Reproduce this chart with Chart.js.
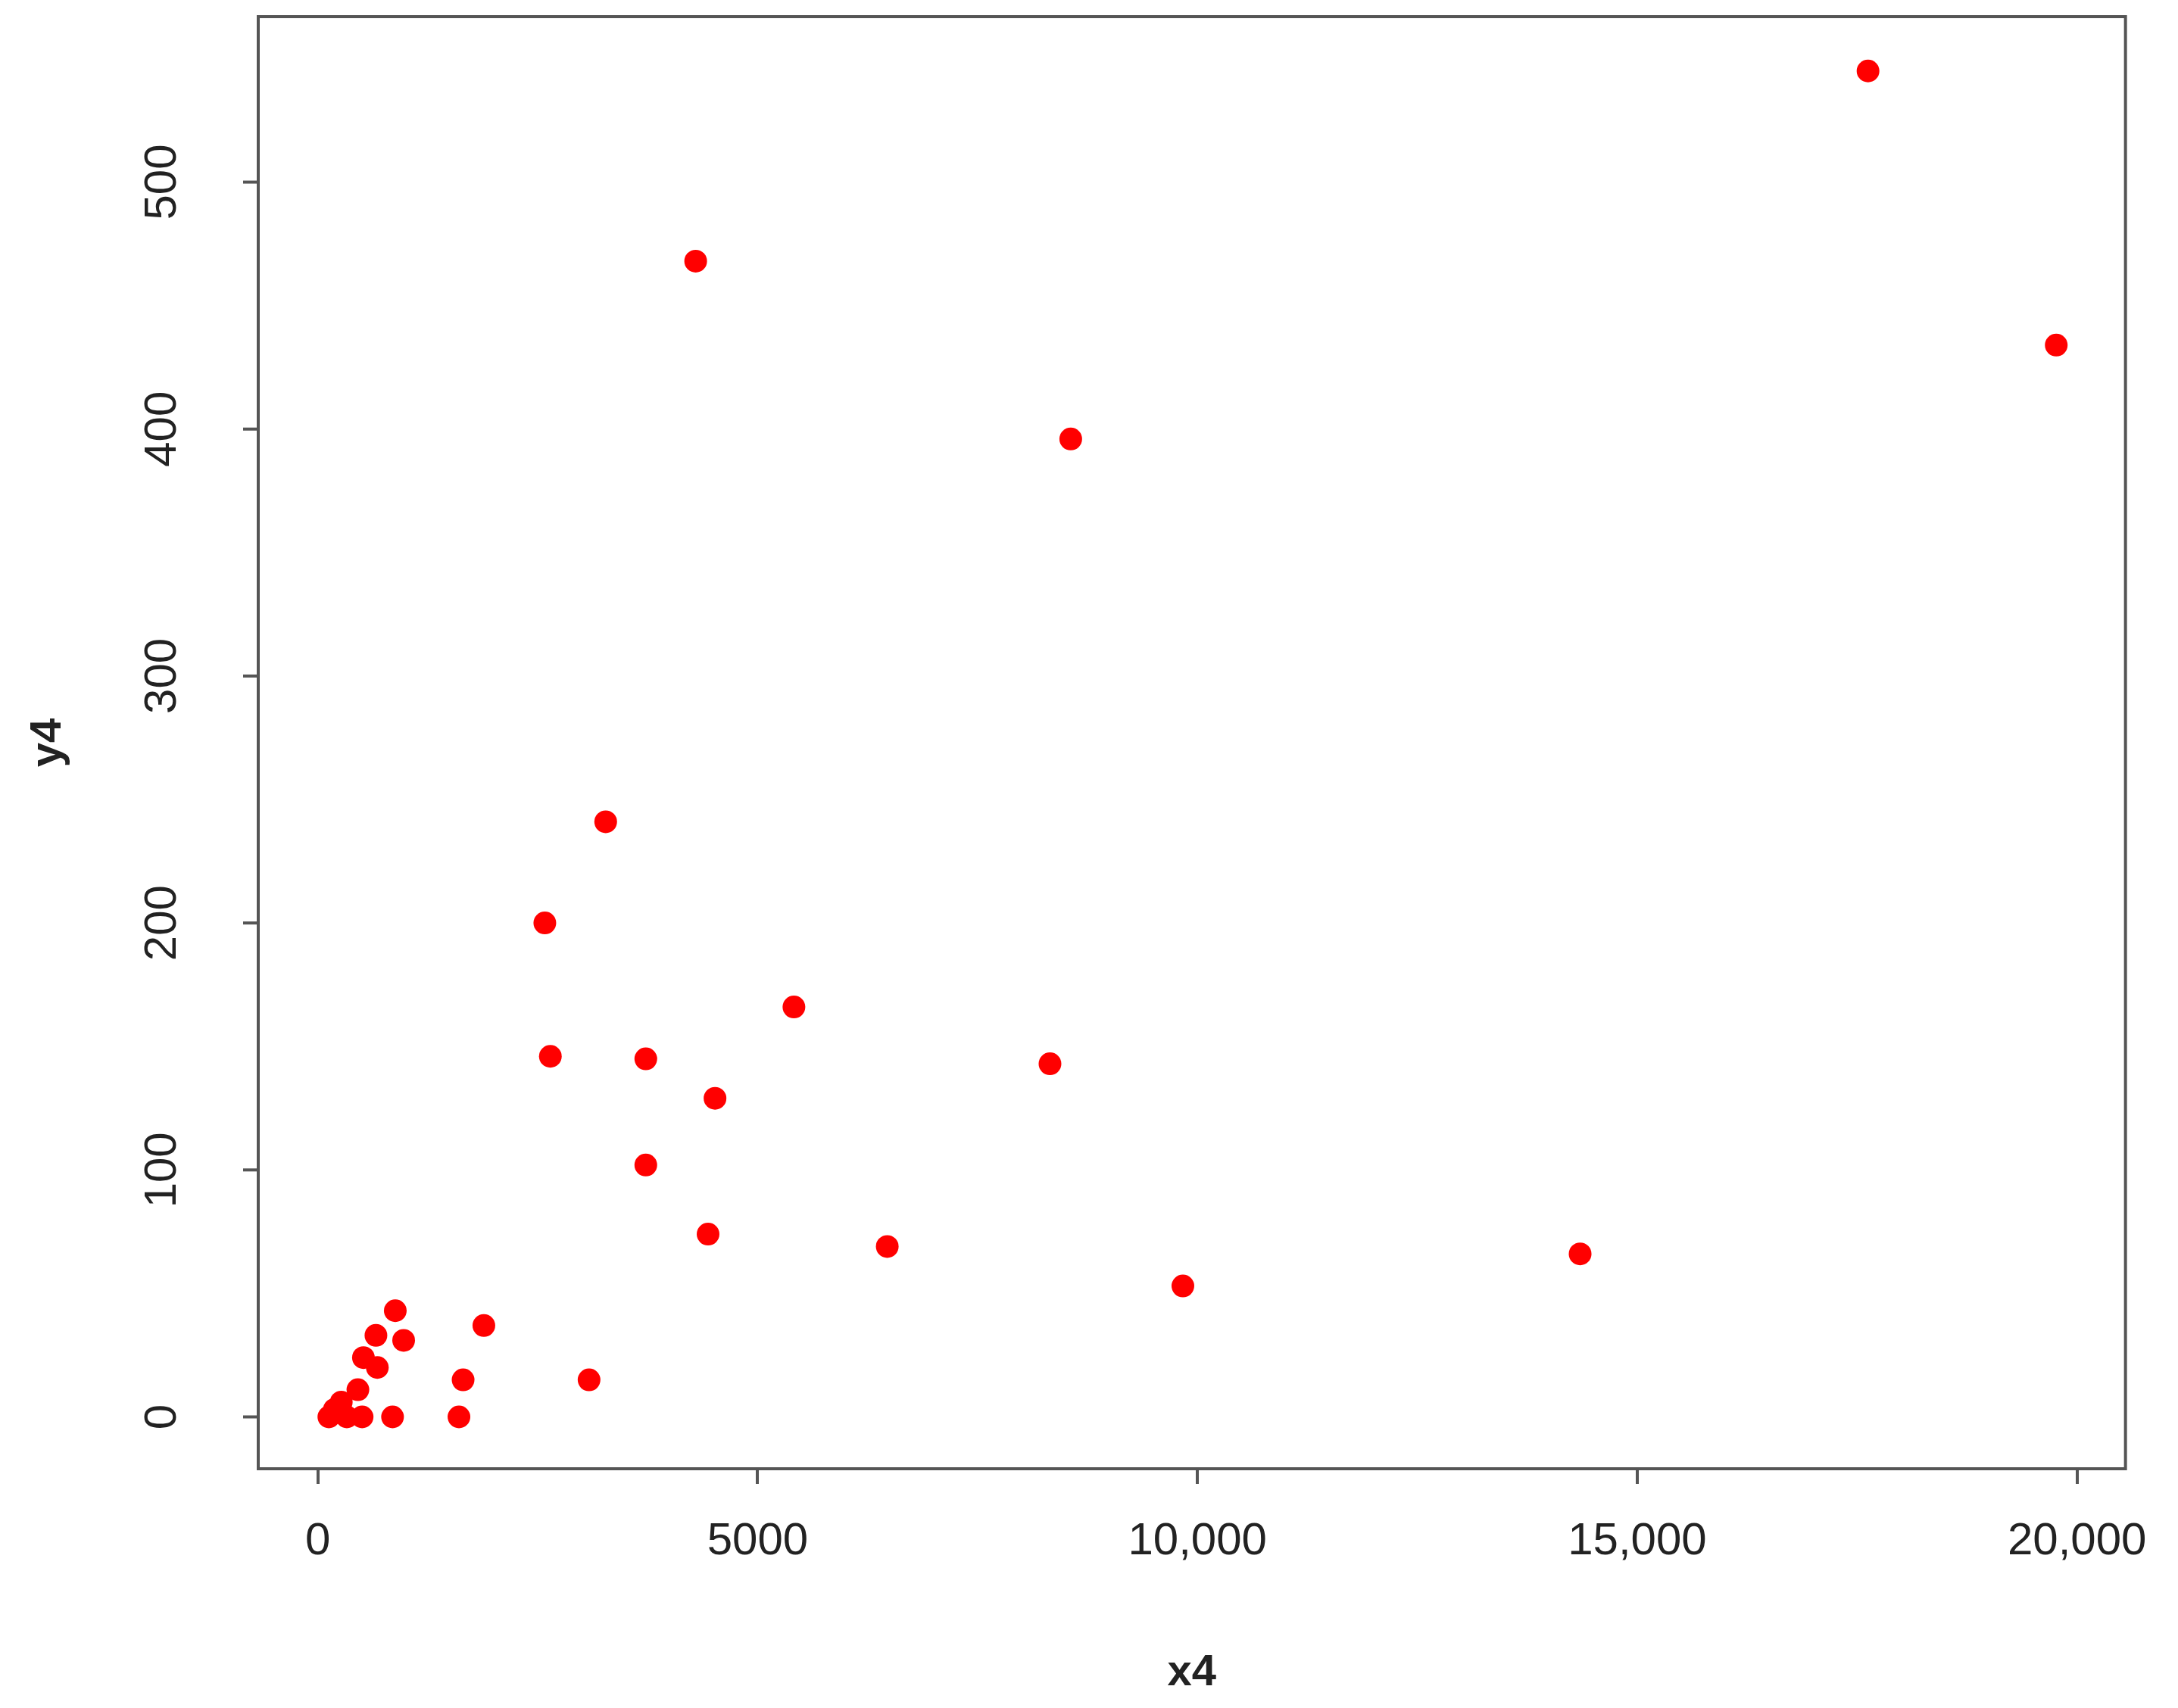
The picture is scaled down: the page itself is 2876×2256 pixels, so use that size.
<!DOCTYPE html>
<html><head><meta charset="utf-8">
<script src="https://cdn.jsdelivr.net/npm/chart.js@4"></script>
<style>body{margin:0;background:#fff}</style>
</head><body>
<canvas id="c" width="2876" height="2256"></canvas>
<script>
// valores
const x4 = [17624, 19764, 4296, 8560, 3273, 2581, 2644, 3729, 5413, 8324, 4516, 3729, 4437, 6474, 9835, 14351,
  1888, 1652, 1605, 3084, 881, 976, 850, 661, 677, 519, 456, 267, 126, 330, 504, 189];
const y4 = [545, 434, 468, 396, 241, 200, 146, 145, 166, 143, 129, 102, 74, 69, 53, 66,
  37, 15, 0, 15, 43, 31, 0, 33, 20, 24, 11, 6, 0, 0, 0, 3];
const xTicks = [0, 5000, 10000, 15000, 20000];
const yTicks = [0, 100, 200, 300, 400, 500];

const pontos = x4.map((v, i) => ({ x: v, y: y4[i] }));
const fonte = "'Liberation Sans', Arial, sans-serif";

const moldura = {
  id: "moldura",
  afterDraw(chart) {
    const c = chart.ctx, a = chart.chartArea, ys = chart.scales.y;
    c.save();
    c.strokeStyle = "#555"; c.lineWidth = 4;
    c.strokeRect(a.left, a.top, a.right - a.left, a.bottom - a.top);
    // ticks e rótulos do eixo y (rotacionados)
    c.fillStyle = "#222"; c.font = "60px " + fonte;
    c.textAlign = "center"; c.textBaseline = "middle";
    yTicks.forEach(t => {
      const py = ys.getPixelForValue(t);
      c.beginPath(); c.moveTo(a.left, py); c.lineTo(a.left - 20, py); c.stroke();
      c.save(); c.translate(215, py); c.rotate(-Math.PI / 2); c.fillText(String(t), 0, 0); c.restore();
    });
    // títulos
    c.font = "bold 58px " + fonte;
    c.fillText("x4", (a.left + a.right) / 2, 2210);
    c.save(); c.translate(64, (a.top + a.bottom) / 2); c.rotate(-Math.PI / 2); c.fillText("y4", 0, 0); c.restore();
    c.restore();
  }
};

new Chart(document.getElementById("c"), {
  type: "scatter",
  data: { datasets: [{ data: pontos, backgroundColor: "#ff0000", borderColor: "#ff0000", pointRadius: 15, borderWidth: 0 }] },
  options: {
    responsive: false, animation: false, devicePixelRatio: 1,
    layout: { padding: { top: 22, right: 61, left: 0, bottom: 0 } },
    plugins: { legend: { display: false }, tooltip: { enabled: false } },
    scales: {
      x: {
        min: -677, max: 20551,
        afterBuildTicks: s => { s.ticks = xTicks.map(v => ({ value: v })); },
        afterFit: s => { s.height = 316; },
        grid: { drawOnChartArea: false, tickLength: 20, color: "#555", lineWidth: 4 },
        border: { display: false },
        ticks: { color: "#222", font: { size: 60, family: fonte }, padding: 40, maxRotation: 0,
          callback: v => v >= 10000 ? v.toLocaleString("en-US") : String(v) }
      },
      y: {
        min: -21, max: 567,
        afterBuildTicks: s => { s.ticks = yTicks.map(v => ({ value: v })); },
        afterFit: s => { s.width = 341; },
        grid: { display: false }, border: { display: false },
        ticks: { display: false }
      }
    }
  },
  plugins: [moldura]
});
</script>
</body></html>
